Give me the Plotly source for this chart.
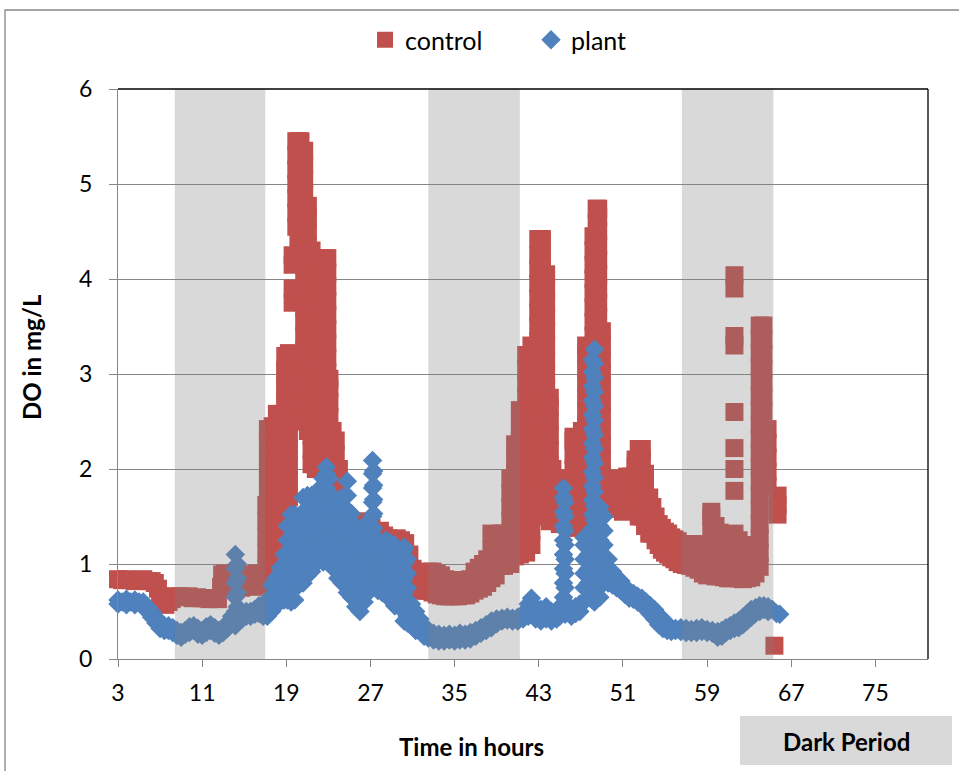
import plotly.graph_objects as go

# ---------------- data ----------------
# control: (hour, [DO readings at that time]) columns
control_cols = [
    (3.0, [0.84]), (3.4, [0.83]), (3.8, [0.84]), (4.2, [0.83]), (4.6, [0.82]), (5.0, [0.83]),
    (5.4, [0.84]), (5.8, [0.82]), (6.2, [0.82]), (6.5, [0.80]), (6.8, [0.74]), (7.0, [0.66]),
    (7.2, [0.59]), (7.5, [0.57]), (7.8, [0.60]), (8.1, [0.63]), (8.5, [0.66]), (8.9, [0.66]),
    (9.3, [0.65]), (9.7, [0.66]), (10.1, [0.64]), (10.5, [0.65]), (10.9, [0.64]), (11.3, [0.64]),
    (11.7, [0.63]), (12.1, [0.64]), (12.5, [0.63]),
    (12.8, [0.76]), (12.9, [0.89]), (13.2, [0.90]), (13.5, [0.80]), (13.8, [0.89]), (14.1, [0.76]),
    (14.4, [0.89]), (14.7, [0.75]), (15.0, [0.88]), (15.3, [0.77]), (15.6, [0.89]), (15.9, [0.76]),
    (16.2, [0.90]), (16.5, [0.78]), (16.8, [0.90]),
    (17.1, [0.95, 1.12, 1.29, 1.46, 1.62]),
    (17.25, [1.80, 1.97, 2.13, 2.29, 2.42]),
    (17.45, [2.30, 2.12, 1.94, 1.76, 1.58, 1.40, 1.22, 1.05, 0.92]),
    (17.7, [1.05, 1.22, 1.40, 1.58, 1.76, 1.94, 2.12, 2.30, 2.45]),
    (18.1, [2.58, 2.41, 2.24, 2.07, 1.90, 1.73, 1.56, 1.39, 1.22, 1.05, 0.95]),
    (18.5, [1.10, 1.27, 1.44, 1.61, 1.78, 1.95, 2.12, 2.29, 2.46, 2.58]),
    (18.9, [2.72, 2.88, 3.04, 3.19, 3.02, 2.85, 2.68, 2.51, 2.34, 2.17, 2.00, 1.83, 1.66]),
    (19.25, [1.70, 1.87, 2.04, 2.21, 2.38, 2.55, 2.72, 2.89, 3.06, 3.22]),
    (19.6, [3.75, 3.90, 4.15, 4.25]),
    (19.95, [4.55, 4.70, 4.85, 5.00, 5.15, 5.30, 5.45]),
    (20.15, [5.45, 5.30, 5.15, 5.00, 4.85, 4.70, 4.55, 4.40]),
    (20.35, [4.55, 4.70, 4.85, 5.00, 5.15, 5.30, 5.45]),
    (20.7, [5.35, 5.20, 5.05, 4.90, 4.75, 4.60, 4.45, 4.30, 4.15, 4.00, 3.85, 3.70, 3.55, 3.40,
            3.25, 3.10, 2.95, 2.80, 2.65, 2.50]),
    (21.05, [2.40, 2.55, 2.70, 2.85, 3.00, 3.15, 3.30, 3.45, 3.60, 3.75, 3.90, 4.05, 4.20, 4.35,
             4.50, 4.65, 4.77]),
    (21.4, [4.30, 4.15, 4.00, 3.85, 3.70, 3.55, 3.40, 3.25, 3.10, 2.95, 2.80, 2.65, 2.50, 2.35,
            2.20, 2.05]),
    (21.8, [2.00, 2.15, 2.30, 2.45, 2.60, 2.75, 2.90, 3.05, 3.20, 3.35, 3.50, 3.65, 3.80, 3.95, 4.05]),
    (22.2, [4.20, 4.05, 3.90, 3.75, 3.60, 3.45, 3.30, 3.15, 3.00, 2.85, 2.70, 2.55, 2.40, 2.25, 2.10]),
    (22.55, [2.20, 2.35, 2.50, 2.65, 2.80, 2.95, 3.10, 3.25, 3.40, 3.55, 3.70, 3.85, 4.00, 4.15, 4.22]),
    (22.9, [4.22, 4.07, 3.92, 3.77, 3.62, 3.47, 3.32, 3.17, 3.02, 2.87, 2.72, 2.57, 2.42, 2.27,
            2.12, 2.00]),
    (23.1, [2.10, 2.25, 2.40, 2.55, 2.70, 2.85, 2.95]),
    (23.4, [2.40, 2.25, 2.10, 1.95]),
    (23.7, [1.85, 2.00, 2.15, 2.30]),
    (24.0, [2.00, 1.85, 1.70, 1.55]),
    (24.2, [1.60, 1.75, 1.48]),
    (24.6, [1.45, 1.30]), (25.0, [1.38, 1.24, 1.10]), (25.4, [1.36, 1.22]),
    (25.9, [1.45, 1.30, 1.15, 1.02]), (26.3, [1.38, 1.20]), (26.7, [1.36, 1.18]),
    (27.1, [1.38, 1.20]), (27.5, [1.32, 1.15]), (27.9, [1.35, 1.18]), (28.3, [1.30, 1.12]),
    (28.7, [1.27, 1.10]), (29.1, [1.26, 1.08]), (29.5, [1.27, 1.10]), (29.9, [1.25, 1.06]),
    (30.3, [1.22, 1.05]), (30.7, [1.10, 0.92]), (31.0, [0.95, 0.80]), (31.3, [0.88, 0.72]),
    (31.7, [0.88, 0.72]), (32.1, [0.90, 0.74]), (32.5, [0.92, 0.72]), (32.9, [0.92, 0.70]),
    (33.3, [0.90, 0.68]), (33.7, [0.88, 0.67]), (34.1, [0.84, 0.66]), (34.5, [0.82, 0.66]),
    (34.9, [0.83, 0.66]), (35.3, [0.82, 0.66]), (35.7, [0.83, 0.67]), (36.1, [0.82, 0.67]),
    (36.5, [0.84, 0.69]), (36.9, [0.92, 0.72]), (37.3, [0.96, 0.74]), (37.7, [1.00, 0.76]),
    (38.1, [1.05, 0.80]), (38.5, [1.32, 1.15, 0.98, 0.85]), (38.9, [1.20, 1.05, 0.88]),
    (39.3, [1.32, 1.15, 0.98]), (39.7, [1.32, 1.15, 0.98]), (40.0, [1.20, 1.05]),
    (40.3, [1.00, 1.15, 1.30, 1.45, 1.60, 1.75, 1.90]),
    (40.75, [2.26, 2.10, 1.95, 1.80, 1.65, 1.50, 1.35, 1.20, 1.08]),
    (41.2, [1.10, 1.25, 1.40, 1.55, 1.70, 1.85, 2.00, 2.15, 2.30, 2.45, 2.62]),
    (41.8, [3.20, 3.05, 2.90, 2.75, 2.60, 2.45, 2.30, 2.15, 2.00, 1.85, 1.70, 1.55, 1.40, 1.25, 1.12]),
    (42.3, [1.20, 1.35, 1.50, 1.65, 1.80, 1.95, 2.10, 2.25, 2.40, 2.55, 2.70, 2.85, 3.00, 3.15, 3.30]),
    (42.95, [3.35, 3.50, 3.65, 3.80, 3.95, 4.10, 4.25, 4.42]),
    (43.1, [4.42, 4.27, 4.12, 3.97, 3.82, 3.67, 3.52, 3.37, 3.22, 3.07, 2.92, 2.77, 2.62, 2.47,
            2.32, 2.17, 2.02, 1.87]),
    (43.3, [1.85, 2.00, 2.15, 2.30, 2.45, 2.60, 2.75, 2.90, 3.05, 3.20, 3.35, 3.50, 3.65, 3.80,
            3.95, 4.10, 4.25, 4.42]),
    (43.7, [4.05, 3.90, 3.75, 3.60, 3.45, 3.30, 3.15, 3.00, 2.85, 2.70, 2.55, 2.40, 2.25, 2.10,
            1.95, 1.80, 1.65, 1.50]),
    (44.05, [1.45, 1.60, 1.75, 1.90, 2.05, 2.20, 2.35, 2.50, 2.65, 2.75]),
    (44.3, [2.00, 1.85, 1.70, 1.55]), (44.6, [1.50, 1.65, 1.80, 1.90]),
    (45.0, [1.85, 1.70, 1.55, 1.42]), (45.4, [1.48, 1.63, 1.78, 1.90]),
    (45.8, [1.80, 1.65, 1.50, 1.38]),
    (46.3, [1.40, 1.55, 1.70, 1.85, 2.00, 2.15, 2.30, 2.34]),
    (46.7, [2.30, 2.15, 2.00, 1.85, 1.70, 1.55, 1.40]),
    (47.1, [1.50, 1.65, 1.80, 1.95, 2.10, 2.25, 2.40]),
    (47.5, [2.45, 2.60, 2.75, 2.90, 3.05, 3.20, 3.30]),
    (47.9, [3.27, 3.12, 2.97, 2.82, 2.67, 2.52, 2.37, 2.22, 2.07, 1.92]),
    (48.2, [1.90, 2.05, 2.20, 2.35, 2.50, 2.65, 2.80, 2.95, 3.10, 3.25, 3.40, 3.55, 3.70, 3.85,
            4.00, 4.15, 4.30, 4.45]),
    (48.5, [4.74, 4.59, 4.44, 4.29, 4.14, 3.99, 3.84, 3.69, 3.54, 3.40]),
    (48.65, [3.45, 3.60, 3.75, 3.90, 4.05, 4.20, 4.35, 4.50, 4.65, 4.74]),
    (49.0, [3.45, 3.30, 3.15, 3.00, 2.85, 2.70, 2.55, 2.40, 2.25, 2.10, 1.95]),
    (49.4, [1.86, 1.72, 1.58]), (49.8, [1.62, 1.76, 1.86]), (50.2, [1.74, 1.60]),
    (50.6, [1.66, 1.80, 1.90]), (51.0, [1.78, 1.64, 1.55]),
    (51.4, [1.62, 1.77, 1.92]), (51.8, [1.92, 1.77, 1.62]),
    (52.2, [1.58, 1.73, 1.88, 2.03, 2.10]), (52.5, [2.21, 2.06, 1.91, 1.76, 1.60, 1.50]),
    (52.8, [1.50, 1.65, 1.80, 1.95, 2.10, 2.21]), (53.1, [1.95, 1.80, 1.65, 1.50, 1.40]),
    (53.5, [1.70, 1.55, 1.40, 1.32]),
    (53.8, [1.60, 1.46, 1.32]), (54.1, [1.50, 1.35, 1.25]), (54.4, [1.42, 1.28, 1.20]),
    (54.7, [1.38, 1.24, 1.15]), (55.0, [1.34, 1.22, 1.12]), (55.3, [1.32, 1.20, 1.10]),
    (55.6, [1.28, 1.16, 1.07]), (55.9, [1.26, 1.14, 1.05]), (56.2, [1.24, 1.12, 1.02]),
    (56.6, [1.21, 1.10, 1.00]), (57.0, [1.21, 1.08, 0.99]), (57.4, [1.20, 1.08, 0.98]),
    (57.8, [1.21, 1.07, 0.96]), (58.2, [1.20, 1.06, 0.94]), (58.6, [1.15, 1.02, 0.90]),
    (59.0, [1.10, 0.98, 0.88]), (59.4, [0.90, 1.05, 1.20, 1.35, 1.50, 1.55]),
    (59.8, [1.40, 1.25, 1.10, 0.95, 0.87]), (60.2, [0.87, 1.00, 1.15, 1.30, 1.33]),
    (60.6, [1.28, 1.13, 0.98, 0.86]), (61.0, [0.85, 1.00, 1.13, 1.25]),
    (61.3, [1.30, 1.15, 0.98, 0.85]),
    (61.6, [4.04, 3.90, 3.40, 3.30, 2.60, 2.22, 2.00, 1.77, 1.32]),
    (62.0, [0.85, 1.00, 1.15, 1.25]), (62.4, [1.20, 1.05, 0.90, 0.84]),
    (62.8, [0.85, 0.97, 1.10, 1.20]), (63.2, [1.10, 0.96, 0.86]), (63.6, [0.90, 1.05, 1.15]),
    (64.0, [0.97, 1.12, 1.27, 1.42, 1.57, 1.72, 1.87, 2.02, 2.17, 2.32, 2.47, 2.62, 2.77, 2.92,
            3.07, 3.22, 3.37, 3.51]),
    (64.35, [3.51, 3.36, 3.21, 3.06, 2.91, 2.76, 2.61]),
    (64.75, [2.42, 2.27, 2.12, 1.97, 1.82]),
    (65.7, [1.72, 1.62, 1.52]),
    (65.4, [0.14]),
]

# plant: (hour, [DO readings at that time]) columns
plant_cols = [
    (3.0, [0.62, 0.58]), (3.4, [0.60]), (3.8, [0.63, 0.57]), (4.2, [0.60]), (4.6, [0.62, 0.57]),
    (5.0, [0.60]), (5.4, [0.60, 0.55]), (5.8, [0.55, 0.50]), (6.2, [0.50, 0.44]), (6.6, [0.44, 0.38]),
    (7.0, [0.38, 0.32]), (7.4, [0.35, 0.30]), (7.8, [0.35, 0.30]), (8.2, [0.33, 0.28]),
    (8.6, [0.30, 0.25]), (9.0, [0.28, 0.23]), (9.4, [0.30, 0.26]), (9.8, [0.34, 0.28]),
    (10.2, [0.35, 0.30]), (10.6, [0.32, 0.26]), (11.0, [0.30, 0.25]), (11.4, [0.34, 0.28]),
    (11.8, [0.36, 0.30]), (12.2, [0.33, 0.27]), (12.6, [0.30, 0.25]), (13.0, [0.33, 0.28]),
    (13.4, [0.38, 0.32]), (13.8, [0.45, 0.38]),
    (14.15, [0.35, 0.50, 0.65, 0.80, 0.95, 1.10]),
    (14.35, [1.00, 0.85, 0.70, 0.55, 0.40]),
    (14.8, [0.42, 0.48]), (15.2, [0.45, 0.50]), (15.6, [0.50, 0.45]), (16.0, [0.52, 0.47]),
    (16.4, [0.56, 0.48]), (16.8, [0.58, 0.45]),
    (17.2, [0.62, 0.50, 0.45]), (17.6, [0.50, 0.65, 0.78]), (18.0, [0.85, 0.70, 0.57]),
    (18.4, [0.60, 0.75, 0.90, 0.96]), (18.8, [1.10, 0.95, 0.80, 0.62]),
    (19.1, [0.62, 0.78, 0.95, 1.10, 1.25, 1.40]),
    (19.45, [1.52, 1.38, 1.22, 1.06, 0.90, 0.75, 0.60]),
    (19.8, [0.62, 0.78, 0.94, 1.10, 1.26, 1.42, 1.52]),
    (20.2, [1.50, 1.35, 1.20, 1.05, 0.90, 0.78]),
    (20.6, [0.80, 0.95, 1.10, 1.25, 1.40, 1.55, 1.70]),
    (21.0, [1.72, 1.57, 1.42, 1.27, 1.12, 0.97, 0.88]),
    (21.4, [0.92, 1.07, 1.22, 1.37, 1.52, 1.67, 1.72]),
    (21.8, [1.70, 1.55, 1.40, 1.25, 1.10, 1.00]),
    (22.2, [1.05, 1.20, 1.35, 1.50, 1.65, 1.80]),
    (22.5, [1.90, 1.75, 1.60, 1.45, 1.30, 1.15, 1.02]),
    (22.8, [1.05, 1.20, 1.35, 1.50, 1.65, 1.80, 1.95, 2.02]),
    (23.1, [1.90, 1.75, 1.60, 1.45, 1.30, 1.15, 1.00]),
    (23.5, [0.95, 1.10, 1.25, 1.40, 1.55, 1.65]),
    (23.9, [1.60, 1.45, 1.30, 1.15, 1.00, 0.85]),
    (24.3, [0.80, 0.95, 1.10, 1.25, 1.40, 1.55, 1.70]),
    (24.8, [1.87, 1.72, 1.57, 1.42, 1.27, 1.12, 0.97, 0.82, 0.70]),
    (25.2, [0.65, 0.80, 0.95, 1.10, 1.25, 1.40, 1.53]),
    (25.6, [1.40, 1.25, 1.10, 0.95, 0.80, 0.65, 0.55]),
    (26.0, [0.50, 0.65, 0.80, 0.86]),
    (26.4, [0.60, 0.75, 0.90, 1.05, 1.20, 1.32]),
    (26.8, [1.45, 1.30, 1.15, 1.00, 0.85, 0.70]),
    (27.2, [0.75, 0.90, 1.05, 1.20, 1.35, 1.50, 1.65, 1.80, 1.95, 2.09]),
    (27.3, [1.98, 1.83, 1.68, 1.53, 1.38, 1.23, 1.08, 0.93, 0.78]),
    (27.7, [0.72, 0.87, 1.02, 1.17, 1.25]),
    (28.1, [1.22, 1.07, 0.92, 0.77, 0.70]),
    (28.5, [0.68, 0.83, 0.98, 1.13, 1.25]),
    (28.9, [1.22, 1.07, 0.92, 0.77, 0.62]),
    (29.3, [0.56, 0.71, 0.86, 1.01, 1.16, 1.20]),
    (29.7, [1.15, 1.00, 0.85, 0.70, 0.55]),
    (30.2, [0.40, 0.55, 0.70, 0.85, 1.00, 1.15, 1.18]),
    (30.5, [1.05, 0.90, 0.75, 0.60, 0.45, 0.38]),
    (30.9, [0.35, 0.48, 0.58]), (31.3, [0.50, 0.40, 0.30]), (31.7, [0.30, 0.42]),
    (32.1, [0.35, 0.24]), (32.5, [0.30, 0.22]), (33.0, [0.27, 0.20]), (33.5, [0.26, 0.19]),
    (34.0, [0.25, 0.19]), (34.5, [0.26, 0.20]), (35.0, [0.25, 0.19]), (35.5, [0.27, 0.20]),
    (36.0, [0.26, 0.20]), (36.5, [0.28, 0.21]), (37.0, [0.30, 0.24]), (37.5, [0.33, 0.27]),
    (38.0, [0.36, 0.30]), (38.5, [0.40, 0.33]), (39.0, [0.42, 0.37]), (39.5, [0.43, 0.40]),
    (40.0, [0.44, 0.41]), (40.5, [0.43, 0.40]), (41.0, [0.44, 0.40]), (41.5, [0.48, 0.42]),
    (42.0, [0.58, 0.45]), (42.3, [0.64, 0.50]), (42.7, [0.55, 0.42]), (43.2, [0.52, 0.40]),
    (43.7, [0.55, 0.42]), (44.2, [0.50, 0.40]), (44.7, [0.50, 0.42]), (45.0, [0.55, 0.45]),
    (45.35, [0.50, 0.65, 0.80, 0.95, 1.10, 1.25, 1.40, 1.55, 1.70, 1.80]),
    (45.5, [1.65, 1.50, 1.35, 1.20, 1.05, 0.90, 0.75, 0.60, 0.47]),
    (46.1, [0.45, 0.52]), (46.5, [0.48, 0.55]), (46.9, [0.50, 0.58]),
    (47.3, [0.60, 0.75, 0.90, 1.05, 1.20, 1.28]),
    (47.7, [1.10, 0.95, 0.80, 0.65]),
    (48.1, [0.62, 0.77, 0.92, 1.07, 1.22, 1.37, 1.52, 1.67, 1.82, 1.97, 2.12, 2.27, 2.42, 2.57,
            2.72, 2.87, 3.02, 3.15]),
    (48.3, [3.26, 3.11, 2.96, 2.81, 2.66, 2.51, 2.36, 2.21, 2.06, 1.91, 1.76, 1.61, 1.46, 1.31,
            1.16, 1.01, 0.86, 0.71, 0.60]),
    (48.8, [0.65, 0.80, 0.95, 1.10, 1.25, 1.40, 1.55, 1.60]),
    (49.2, [1.50, 1.35, 1.20, 1.05, 0.90, 0.80]),
    (49.6, [0.80, 0.95, 1.05]),
    (50.0, [0.92, 0.78]), (50.4, [0.86, 0.75]), (50.8, [0.82, 0.72]), (51.2, [0.76, 0.68]),
    (51.6, [0.70, 0.64]), (52.0, [0.69, 0.63]), (52.4, [0.66, 0.60]), (52.8, [0.64, 0.57]),
    (53.2, [0.60, 0.52]), (53.6, [0.56, 0.47]), (54.0, [0.52, 0.42]), (54.4, [0.46, 0.36]),
    (54.8, [0.42, 0.32]), (55.2, [0.36, 0.30]), (55.6, [0.33, 0.29]), (56.0, [0.32, 0.30]),
    (56.5, [0.33, 0.29]), (57.0, [0.32, 0.28]), (57.5, [0.31, 0.28]), (58.0, [0.32, 0.28]),
    (58.5, [0.33, 0.29]), (59.0, [0.31, 0.28]), (59.5, [0.30, 0.27]), (60.0, [0.29, 0.23]),
    (60.4, [0.30, 0.24]), (60.8, [0.33, 0.28]), (61.2, [0.35, 0.30]), (61.6, [0.38, 0.32]),
    (62.0, [0.40, 0.33]), (62.4, [0.44, 0.36]), (62.8, [0.48, 0.40]), (63.2, [0.52, 0.44]),
    (63.6, [0.54, 0.48]), (64.0, [0.56, 0.50]), (64.4, [0.56, 0.52]), (64.8, [0.55, 0.50]),
    (65.2, [0.52]), (65.6, [0.48]), (65.9, [0.47]),
]

# dark periods (hours)
dark_start = [8.4, 32.5, 56.6]
dark_end = [17.0, 41.2, 65.3]

x_ticks = [3, 11, 19, 27, 35, 43, 51, 59, 67, 75]
y_ticks = [0, 1, 2, 3, 4, 5, 6]

control_hours = [h for h, vals in control_cols for _ in vals]
control_do = [v for h, vals in control_cols for v in vals]
plant_hours = [h for h, vals in plant_cols for _ in vals]
plant_do = [v for h, vals in plant_cols for v in vals]

# ---------------- figure ----------------
W, H = 959, 771
L, R, T, B = 118, 31, 89, 112
pw, ph = W - L - R, H - T - B


def px(xp):
    return (xp - L) / pw


def py(yp):
    return (H - B - yp) / ph


FONT = "Lato"
RED = "#C0504D"
BLUE = "#4F81BD"
GRID = "#868686"

fig = go.Figure()
fig.add_trace(go.Scatter(
    x=control_hours, y=control_do, mode="markers", name="control",
    marker=dict(symbol="square", size=18, color=RED, line=dict(width=0)),
    cliponaxis=False,
))
fig.add_trace(go.Scatter(
    x=plant_hours, y=plant_do, mode="markers", name="plant",
    marker=dict(symbol="diamond", size=15, color=BLUE, line=dict(width=0)),
    cliponaxis=False,
))

shapes = []
for s, e in zip(dark_start, dark_end):
    shapes.append(dict(type="rect", xref="x", yref="y", x0=s, x1=e, y0=0, y1=6,
                       fillcolor="rgba(128,128,128,0.3)", line=dict(width=0), layer="above"))
# plot-area top/right border
shapes.append(dict(type="line", xref="paper", yref="paper", x0=0, x1=1, y0=1, y1=1,
                   line=dict(color="black", width=1.3), layer="above"))
shapes.append(dict(type="line", xref="paper", yref="paper", x0=1, x1=1, y0=0, y1=1,
                   line=dict(color="black", width=1.3), layer="above"))
# chart-area outer border (left/top)
shapes.append(dict(type="rect", xref="paper", yref="paper", x0=px(5), x1=px(975), y0=py(790), y1=py(10),
                   line=dict(color=GRID, width=1.3), fillcolor="rgba(0,0,0,0)", layer="below"))
# "Dark Period" key box
shapes.append(dict(type="rect", xref="paper", yref="paper", x0=px(740), x1=px(952), y0=py(765), y1=py(716),
                   line=dict(width=0), fillcolor="#D9D9D9", layer="below"))

annotations = [
    dict(text="<b>Dark Period</b>", xref="paper", yref="paper", x=px(846), y=py(741),
         showarrow=False, font=dict(family=FONT, size=24, color="black"), xanchor="center", yanchor="middle"),
    dict(text="<b>Time in hours</b>", xref="paper", yref="paper", x=px(471), y=py(746),
         showarrow=False, font=dict(family=FONT, size=24, color="black"), xanchor="center", yanchor="middle"),
    dict(text="<b>DO in mg/L</b>", xref="paper", yref="paper", x=px(31), y=py(357), textangle=-90,
         showarrow=False, font=dict(family=FONT, size=24, color="black"), xanchor="center", yanchor="middle"),
]

fig.update_layout(
    width=W, height=H,
    margin=dict(l=L, r=R, t=T, b=B, autoexpand=False),
    paper_bgcolor="white", plot_bgcolor="white",
    font=dict(family=FONT, size=23, color="black"),
    shapes=shapes, annotations=annotations,
    legend=dict(orientation="h", x=px(365), xanchor="left", y=py(40), yanchor="middle",
                font=dict(family=FONT, size=25, color="black"), bgcolor="rgba(0,0,0,0)",
                entrywidth=121, itemsizing="trace"),
    xaxis=dict(range=[3, 80], tickvals=x_ticks, ticktext=[str(t) for t in x_ticks],
               showgrid=False, zeroline=False, showline=True, linecolor=GRID, linewidth=1.3,
               ticks="outside", ticklen=7, tickcolor=GRID, tickwidth=1.3,
               tickfont=dict(family=FONT, size=23, color="black"), ticklabelstandoff=6),
    yaxis=dict(range=[0, 6], tickvals=y_ticks, ticktext=[str(t) for t in y_ticks],
               showgrid=True, gridcolor=GRID, gridwidth=1.3, zeroline=False,
               showline=True, linecolor=GRID, linewidth=1.3,
               ticks="outside", ticklen=8, tickcolor=GRID, tickwidth=1.3,
               tickfont=dict(family=FONT, size=23, color="black"), ticklabelstandoff=12),
)

fig.write_html("out.html", config={"displayModeBar": False},
               post_script="document.body.style.margin='0px';document.body.style.overflow='hidden';")
